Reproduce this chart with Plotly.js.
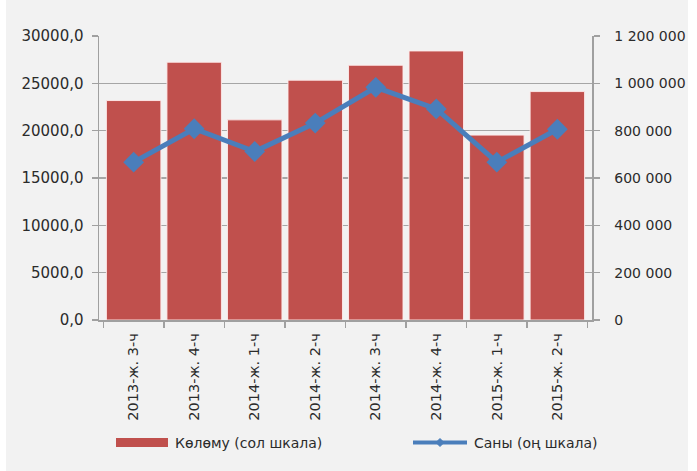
<!DOCTYPE html>
<html>
<head>
<meta charset="utf-8">
<script src="https://cdn.plot.ly/plotly-3.0.1.min.js"></script>
<style>
html,body{margin:0;padding:0;background:#ffffff;}
#chart{position:absolute;left:6px;top:0;width:682px;height:471px;}
</style>
</head>
<body>
<div id="chart"></div>
<script>
const categories = ["2013-ж. 3-ч","2013-ж. 4-ч","2014-ж. 1-ч","2014-ж. 2-ч","2014-ж. 3-ч","2014-ж. 4-ч","2015-ж. 1-ч","2015-ж. 2-ч"];
const volume = [23180, 27230, 21140, 25330, 26910, 28420, 19530, 24130];
const count = [667000, 808000, 712000, 832000, 983000, 892000, 667000, 806000];
const volumeName = "Көлөму (сол шкала)";
const countName = "Саны (оң шкала)";

const barColor = "#c0504d";
const lineColor = "#4a7ebb";
const textColor = "#2b2b2b";
const lfont = {family: "DejaVu Sans", size: 15, color: textColor};
const rfont = {family: "DejaVu Sans", size: 14, color: textColor};
const xfont = {family: "DejaVu Sans", size: 14.5, color: textColor};
const legfont = {family: "DejaVu Sans", size: 14, color: textColor};

const traces = [
  {
    type: "bar", x: categories, y: volume, name: volumeName, yaxis: "y",
    marker: {color: barColor, line: {color: "rgba(255,235,235,0.9)", width: 1}},
    hoverinfo: "y"
  },
  {
    type: "scatter", mode: "lines+markers", x: categories, y: count, name: countName, yaxis: "y2",
    line: {color: lineColor, width: 5},
    marker: {symbol: "diamond", size: 16, color: lineColor}
  }
];

const layout = {
  width: 682, height: 471,
  paper_bgcolor: "#f2f2f2", plot_bgcolor: "#f2f2f2",
  margin: {l: 93, r: 96, t: 36, b: 151},
  font: legfont,
  separators: ", ",
  bargap: 0.1,
  showlegend: false,
  xaxis: {
    type: "category", tickangle: -90, showline: true, linecolor: "#a0a0a0", linewidth: 1.5,
    ticks: "outside", ticklen: 6, tickcolor: "#a0a0a0", tickwidth: 1.5, tickson: "boundaries",
    showgrid: false, tickfont: xfont, ticklabelstandoff: 6, automargin: false
  },
  yaxis: {
    range: [0, 30000], dtick: 5000, tickformat: ".1f", showline: true, linecolor: "#a0a0a0", linewidth: 1.5,
    ticks: "outside", ticklen: 6, tickcolor: "#a0a0a0", tickwidth: 1.5,
    gridcolor: "#a6a6a6", gridwidth: 1.5, zeroline: false, tickfont: lfont, ticklabelstandoff: 5, automargin: false
  },
  yaxis2: {
    range: [0, 1200000], dtick: 200000, tickformat: ",d", overlaying: "y", side: "right",
    showline: true, linecolor: "#a0a0a0", linewidth: 1.5,
    ticks: "outside", ticklen: 6, tickcolor: "#a0a0a0", tickwidth: 1.5,
    showgrid: false, zeroline: false, tickfont: rfont, ticklabelstandoff: 12, automargin: false
  },
  shapes: [
    {type: "rect", xref: "paper", yref: "paper", xsizemode: "pixel", ysizemode: "pixel",
     xanchor: 0, yanchor: 0, x0: 17, x1: 69, y0: -127, y1: -118,
     fillcolor: barColor, line: {width: 0}},
    {type: "line", xref: "paper", yref: "paper", xsizemode: "pixel", ysizemode: "pixel",
     xanchor: 0, yanchor: 0, x0: 314, x1: 368, y0: -122.5, y1: -122.5,
     line: {color: lineColor, width: 4}},
    {type: "path", xref: "paper", yref: "paper", xsizemode: "pixel", ysizemode: "pixel",
     xanchor: 0, yanchor: 0, path: "M337,-122.5 L341,-118.5 L345,-122.5 L341,-126.5 Z",
     fillcolor: lineColor, line: {color: lineColor, width: 1}}
  ],
  annotations: [
    {xref: "paper", yref: "paper", x: 0, y: 0, xshift: 74, yshift: -122.5, xanchor: "left", yanchor: "middle",
     text: volumeName, showarrow: false, font: legfont},
    {xref: "paper", yref: "paper", x: 0, y: 0, xshift: 373, yshift: -122.5, xanchor: "left", yanchor: "middle",
     text: countName, showarrow: false, font: legfont}
  ]
};

Plotly.newPlot("chart", traces, layout, {displayModeBar: false, staticPlot: true});
</script>
</body>
</html>
